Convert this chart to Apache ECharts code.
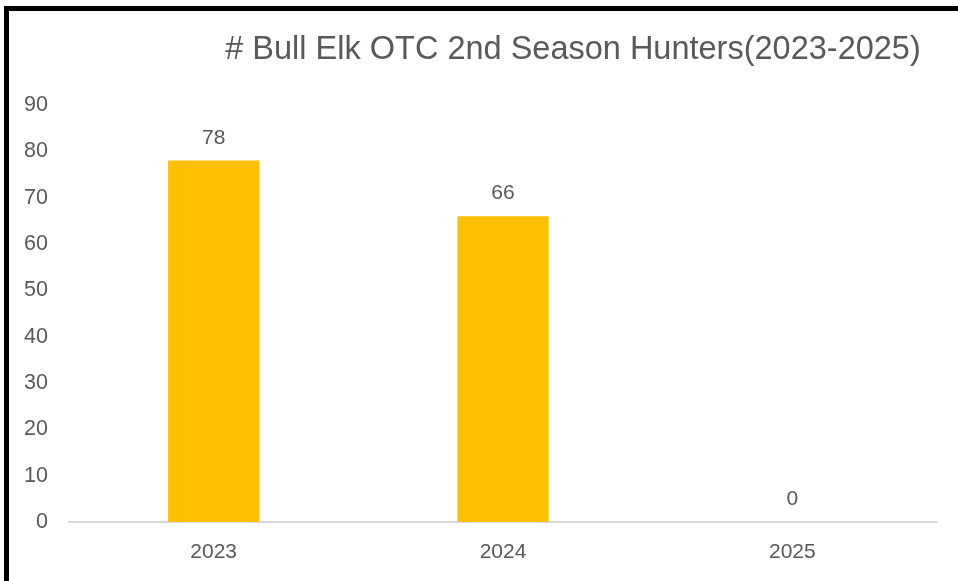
<!DOCTYPE html>
<html><head><meta charset="utf-8">
<script src="https://cdn.jsdelivr.net/npm/echarts@6/dist/echarts.min.js"></script>
<style>html,body{margin:0;padding:0;background:#fff}#c{width:958px;height:581px}</style>
</head><body><div id="c"></div>
<script>
const categories = ['2023', '2024', '2025'];
const hunters = [78, 66, 0];
const yTicks = [0, 10, 20, 30, 40, 50, 60, 70, 80, 90];
const titleText = '# Bull Elk OTC 2nd Season Hunters(2023-2025)';

const chart = echarts.init(document.getElementById('c'));
const txt = '#595959';
const ff = '"Liberation Sans", Arial, sans-serif';
chart.setOption({
  backgroundColor: '#fff',
  animation: false,
  title: {
    text: titleText, left: 568, top: 29, textAlign: 'center',
    textStyle: { fontFamily: ff, fontSize: 32.5, fontWeight: 'normal', color: txt }
  },
  grid: { left: 69, right: 21, top: 105, bottom: 59 },
  xAxis: {
    type: 'category', data: categories,
    axisLine: { lineStyle: { color: '#d9d9d9', width: 2 } },
    axisTick: { show: false },
    axisLabel: { color: txt, fontFamily: ff, fontSize: 21, margin: 20 }
  },
  yAxis: {
    type: 'value', min: yTicks[0], max: yTicks[yTicks.length - 1], interval: 10,
    splitLine: { show: false },
    axisLine: { show: false }, axisTick: { show: false },
    axisLabel: { color: txt, fontFamily: ff, fontSize: 21.5, margin: 21 }
  },
  series: [{
    type: 'bar', data: hunters, barWidth: '31.5%',
    itemStyle: { color: '#ffc000' },
    label: { show: true, position: 'top', distance: 12, color: txt, fontFamily: ff, fontSize: 21 }
  }],
  graphic: [
    { type: 'rect', shape: { x: 4, y: 6, width: 954, height: 5 }, style: { fill: '#000' }, z: 100 },
    { type: 'rect', shape: { x: 4, y: 6, width: 5, height: 575 }, style: { fill: '#000' }, z: 100 }
  ]
});
</script></body></html>
